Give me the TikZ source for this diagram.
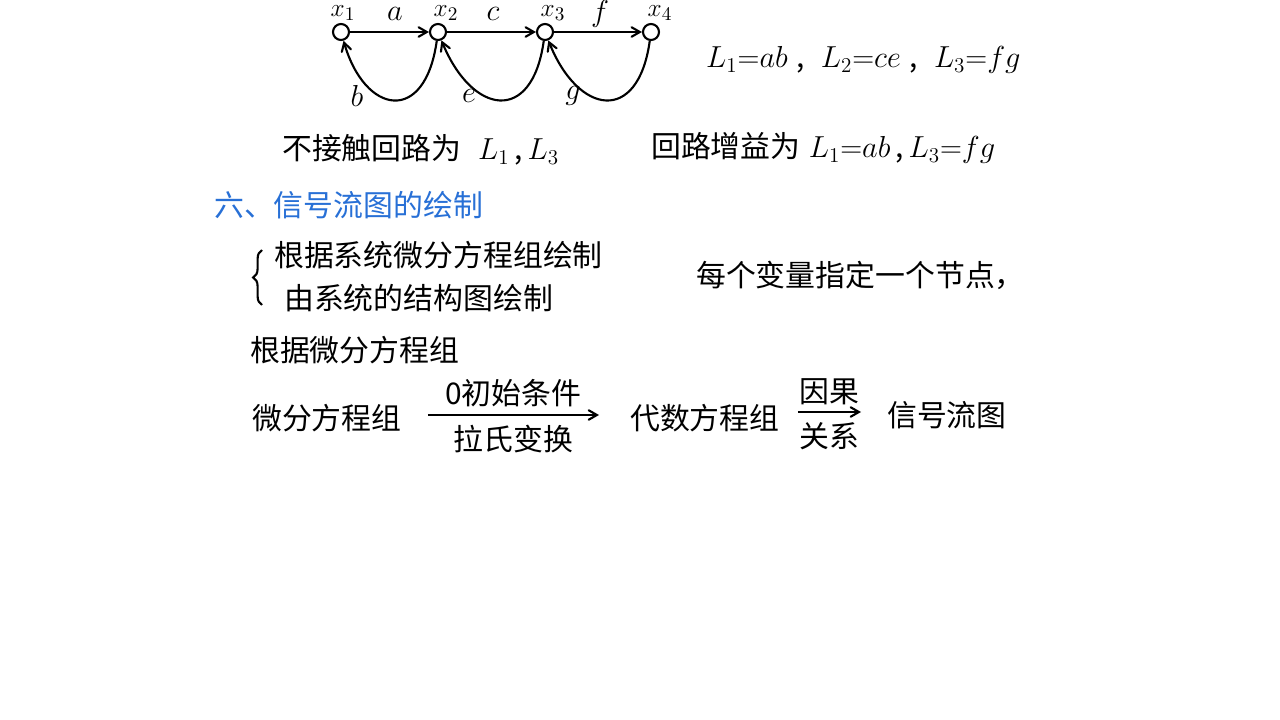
\documentclass[tikz,border=0pt]{standalone}
\usepackage{fontspec}
\setmainfont{Noto Sans CJK SC}
\usetikzlibrary{arrows,positioning,calc,decorations.pathreplacing}

\definecolor{penblue}{RGB}{40,112,214}

\begin{document}
\begin{tikzpicture}[x=0.2mm,y=-0.2mm,
  every node/.style={font=\fontsize{17pt}{19pt}\selectfont},
  vtx/.style={circle, draw, line width=1.2pt, minimum size=3.2mm, inner sep=0pt},
  lbl/.style={inner sep=1pt},
  arr/.style={->, line width=1.2pt, >=angle 60}]
\useasboundingbox (0,0) rectangle (1280,720);

% signal flow graph with 4 nodes
\node[vtx] (x1) at (341,32) {};
\node[vtx] (x2) at (438,32) {};
\node[vtx] (x3) at (545,32) {};
\node[vtx] (x4) at (651,32) {};
\node[inner sep=0pt, anchor=north, font=\fontsize{15pt}{17pt}\selectfont] (t1) at (343,5) {$x_1$};
\node[inner sep=0pt, anchor=north, font=\fontsize{15pt}{17pt}\selectfont] (t2) at (446,5) {$x_2$};
\node[inner sep=0pt, anchor=north, font=\fontsize{15pt}{17pt}\selectfont] (t3) at (553,5) {$x_3$};
\node[inner sep=0pt, anchor=north, font=\fontsize{15pt}{17pt}\selectfont] (t4) at (660,5) {$x_4$};
\draw[arr] (x1) -- (x2);
\draw[arr] (x2) -- (x3);
\draw[arr] (x3) -- (x4);
\node[lbl] (la) at (395,14) {$a$};
\node[lbl] (lc) at (493,14) {$c$};
\node[lbl] (lf) at (600,14) {$f$};
\draw[arr] (x2) .. controls (425,125) and (365,115) .. (x1);
\draw[arr] (x3) .. controls (532,125) and (472,115) .. (x2);
\draw[arr] (x4) .. controls (638,125) and (578,115) .. (x3);
\node[lbl] (lb) at (357,96) {$b$};
\node[lbl] (le) at (469,96) {$e$};
\node[lbl] (lg) at (573,96) {$g$};

\node[anchor=west] (loops) at (700,60) {$L_1{=}ab$\;,\;\;$L_2{=}ce$\;,\;\;$L_3{=}fg$};
\node[anchor=west] (touch) at (276,150) {不接触回路为\;\;$L_1$\,,\,$L_3$};
\node[anchor=west] (gain) at (645,148) {回路增益为\;$L_1{=}ab$\,,\,$L_3{=}fg$};

% section heading
\node[anchor=west, text=penblue] (sec) at (208,205) {六、信号流图的绘制};

\node[anchor=west] (m1) at (268,255) {根据系统微分方程组绘制};
\node[anchor=west] (m2) at (278,298) {由系统的结构图绘制};
\draw[line width=1.2pt, decorate, decoration={brace, amplitude=5pt}]
  (262,305) -- (262,250);
\node[anchor=west] (rule) at (690,275) {每个变量指定一个节点，};

\node[anchor=west] (sub) at (244,350) {根据微分方程组};

\node[anchor=west] (eqs) at (246,418) {微分方程组};
\node[anchor=west] (alg) at (624,418) {代数方程组};
\node[anchor=west] (sfg) at (881,415) {信号流图};
\draw[arr] (eqs.east) ++(20,-3) coordinate (p1) -- ($(alg.west)+(-25,-3)$) coordinate (p2);
\node[lbl] (cond) at ($(p1)!0.5!(p2)+(0,-22)$) {0初始条件};
\node[lbl] (lap) at ($(p1)!0.5!(p2)+(0,24)$) {拉氏变换};
\draw[arr] (alg.east) ++(12,-6) coordinate (q1) -- ($(sfg.west)+(-20,-3)$) coordinate (q2);
\node[lbl] (cause) at ($(q1)!0.5!(q2)+(0,-20)$) {因果};
\node[lbl] (rel) at ($(q1)!0.5!(q2)+(0,24)$) {关系};
\end{tikzpicture}
\end{document}
